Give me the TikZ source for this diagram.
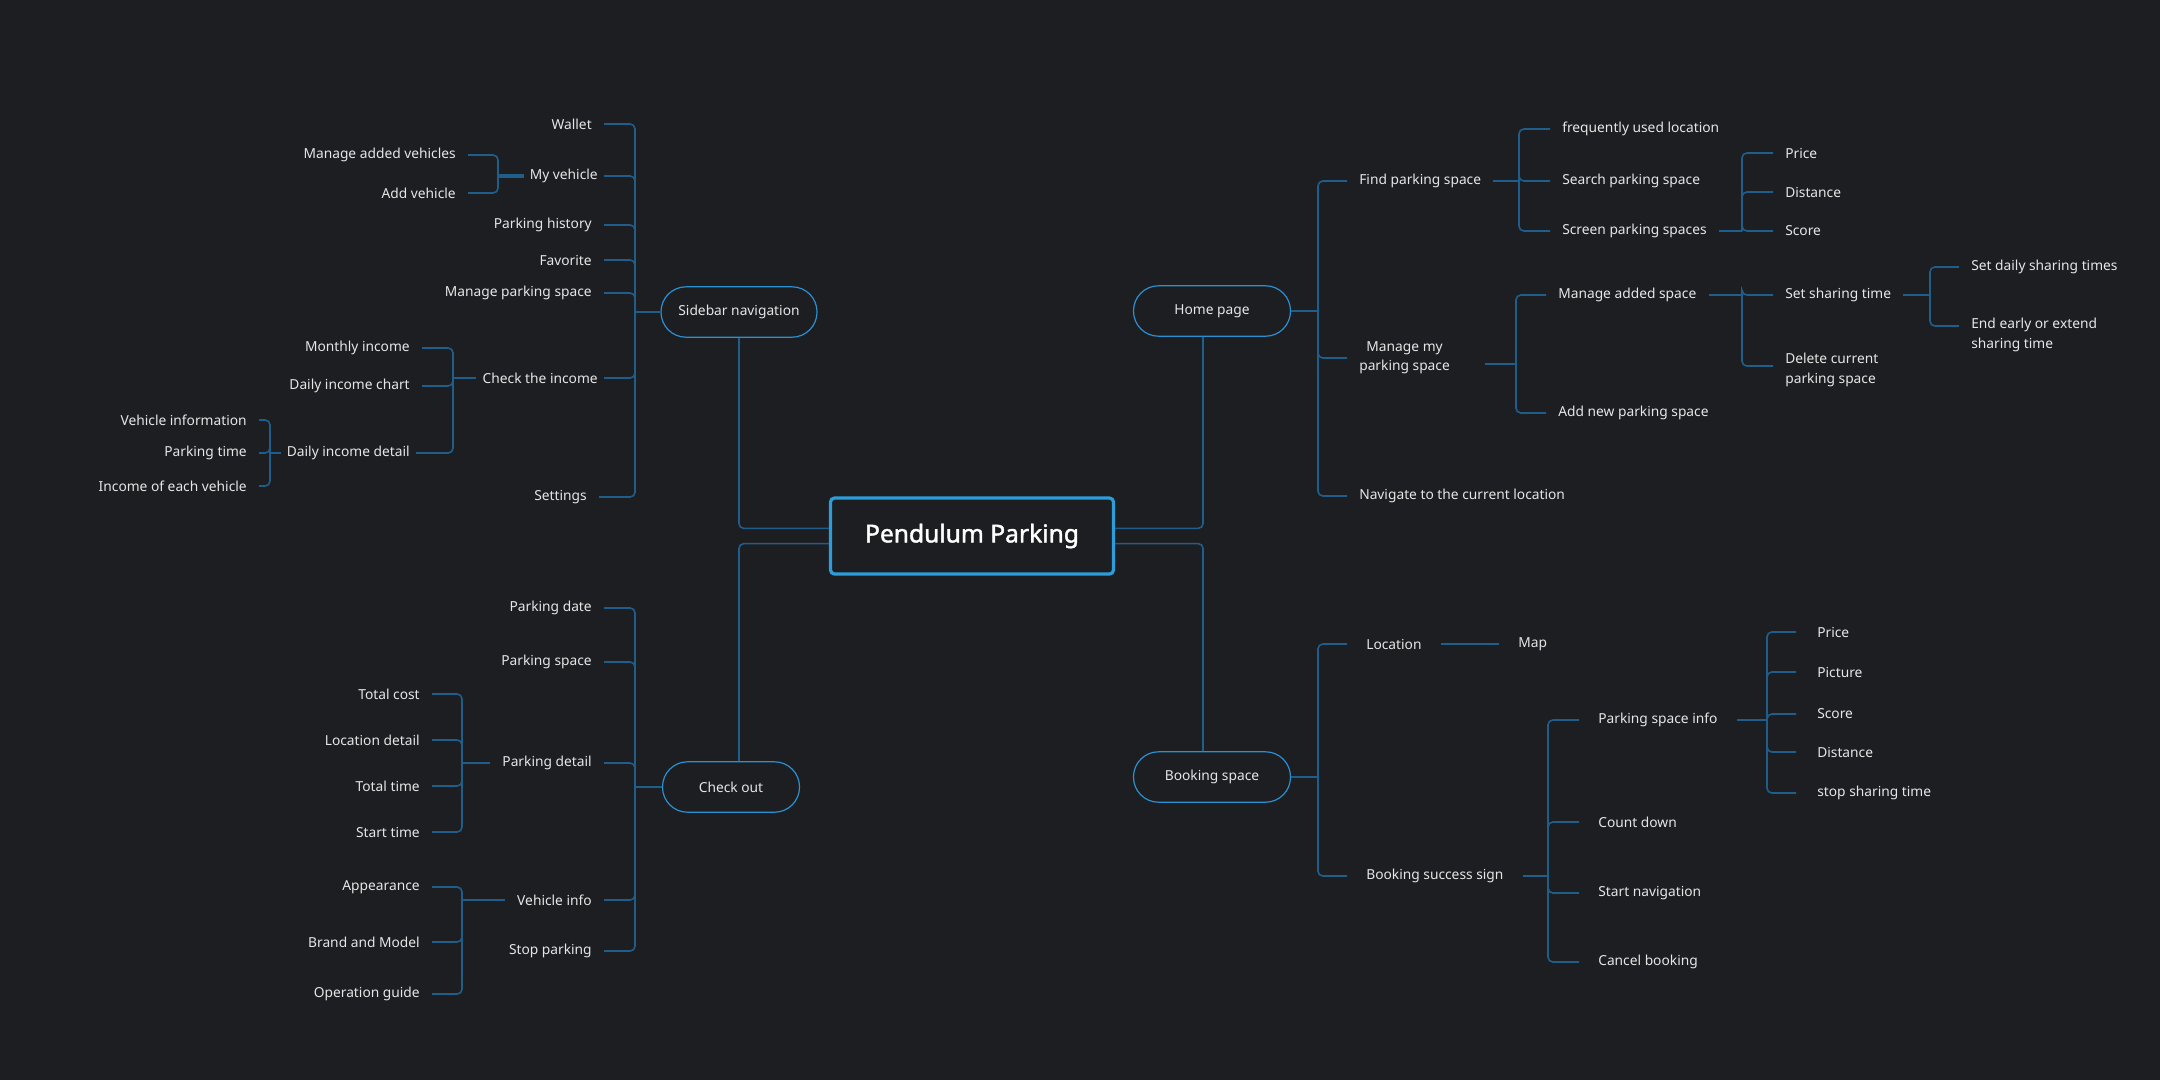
\documentclass[tikz,border=0pt]{standalone}
\usepackage{fontspec}
\setmainfont{Noto Sans}
\newfontfamily\titlefont{Noto Sans}[FakeBold=1.6]
\usepackage{tikz}
\usetikzlibrary{positioning, calc}

\definecolor{bgdark}{HTML}{1D1E22}
\definecolor{linkblue}{HTML}{1F5E8A}
\definecolor{edgeblue}{HTML}{2A90D2}
\definecolor{hubblue}{HTML}{2D9CDB}
\definecolor{labelgray}{HTML}{E6E6E6}
\newcommand{\leaffont}{\fontsize{9.8}{13.8}\selectfont}

\begin{document}
\begin{tikzpicture}[x=0.25mm, y=-0.25mm,%
  link/.style={draw=linkblue, line width=0.4mm, rounded corners=1.2mm},%
  hub/.style={draw=hubblue, line width=0.8mm, rounded corners=1mm, fill=bgdark, minimum width=70.75mm, minimum height=19mm, text=white, font=\titlefont\fontsize{17.5}{20}\selectfont},%
  branch/.style={draw=edgeblue, line width=0.3mm, rounded corners=6.25mm, minimum width=39mm, minimum height=12.6mm, text=labelgray, font=\leaffont},%
  leafL/.style={anchor=east, inner xsep=3mm, text=labelgray, font=\leaffont, align=center},%
  leafLm/.style={leafL, inner xsep=1.5mm},%
  leafR/.style={anchor=west, inner xsep=3mm, text=labelgray, font=\leaffont, align=left}%
]
  \fill[bgdark] (0,0) rectangle (2160,1080);
  \node[hub] (title) at (972,536) {Pendulum Parking};
  \node[branch] (sidebar) at (739,312) {Sidebar navigation};
  \node[branch, minimum width=39.25mm] (home) at (1212,311) {Home page};
  \node[branch, minimum width=34.25mm] (checkout) at (731,787) {Check out};
  \node[branch, minimum width=39.25mm] (booking) at (1212,777) {Booking space};
  \coordinate (trunkR) at (1203,537);
  \draw[link] ([yshift=1.9mm]title.west) -| (sidebar.south);
  \draw[link] ([yshift=-1.9mm]title.west) -| (checkout.north -| sidebar.south);
  \draw[link] ([yshift=1.9mm]title.east) -| (home.south -| trunkR);
  \draw[link] ([yshift=-1.9mm]title.east) -| (booking.north -| trunkR);

  % Sidebar navigation
  \coordinate (sbBus) at (635,312);
  \draw[link] (sidebar.west) -- (sbBus);
  \node[leafL] (wallet) at (604,124) {Wallet};
  \node[leafLm] (myveh) at (604,176) {My vehicle};
  \node[leafL] (history) at (604,225) {Parking history};
  \node[leafL] (favorite) at (604,260) {Favorite};
  \node[leafL] (manspace) at (604,293) {Manage parking space};
  \node[leafLm] (income) at (604,378) {Check the income};
  \node[leafL] (settings) at (599,497) {Settings};
  \draw[link] (sbBus) |- (wallet.east);
  \draw[link] (sbBus) |- (myveh.east);
  \draw[link] (sbBus) |- (history.east);
  \draw[link] (sbBus) |- (favorite.east);
  \draw[link] (sbBus) |- (manspace.east);
  \draw[link] (sbBus) |- (income.east);
  \draw[link] (sbBus) |- (settings.east);
  % My vehicle
  \coordinate (vehBus) at (498,176);
  \draw[link, line width=0.8mm, rounded corners=0mm] (myveh.west) -- (vehBus);
  \node[leafL] (manveh) at (468,155) {Manage added vehicles};
  \node[leafL] (addveh) at (468,193) {Add vehicle};
  \draw[link] (vehBus) |- (manveh.east);
  \draw[link] (vehBus) |- (addveh.east);
  % Check the income
  \coordinate (incBus) at (453,378);
  \draw[link] (income.west) -- (incBus);
  \node[leafL] (monthly) at (422,348) {Monthly income};
  \node[leafL] (dailychart) at (422,386) {Daily income chart};
  \node[leafLm] (dailydetail) at (416,453) {Daily income detail};
  \draw[link] (incBus) |- (monthly.east);
  \draw[link] (incBus) |- (dailychart.east);
  \draw[link] (incBus) |- (dailydetail.east);
  \coordinate (detBus) at (270,453);
  \draw[link] (dailydetail.west) -- (detBus);
  \node[leafL] (vehinfo) at (259,420) {Vehicle information};
  \node[leafL] (parktime) at (259,453) {Parking time};
  \node[leafL] (eachveh) at (259,486) {Income of each vehicle};
  \draw[link] (detBus) |- (vehinfo.east);
  \draw[link] (detBus) |- (parktime.east);
  \draw[link] (detBus) |- (eachveh.east);

  % Home page
  \coordinate (homeBus) at (1318,311);
  \draw[link] (home.east) -- (homeBus);
  \node[leafR] (find) at (1347,181) {Find parking space};
  \node[leafR, align=center] (mymanage) at (1347,358) {Manage my\\parking space};
  \node[leafR] (navigate) at (1347,496) {Navigate to the current location};
  \draw[link] (homeBus) |- (find.west);
  \draw[link] (homeBus) |- (mymanage.west);
  \draw[link] (homeBus) |- (navigate.west);
  % Find parking space
  \coordinate (findBus) at (1519,181);
  \draw[link] (find.east) -- (findBus);
  \node[leafR] (frequent) at (1550,129) {frequently used location};
  \node[leafR] (search) at (1550,181) {Search parking space};
  \node[leafR] (screen) at (1550,231) {Screen parking spaces};
  \draw[link] (findBus) |- (frequent.west);
  \draw[link] (findBus) |- (search.west);
  \draw[link] (findBus) |- (screen.west);
  \coordinate (screenBus) at (1742,231);
  \draw[link] (screen.east) -- (screenBus);
  \node[leafR] (price) at (1773,153) {Price};
  \node[leafR] (distance) at (1773,192) {Distance};
  \node[leafR] (score) at (1773,231) {Score};
  \draw[link] (screenBus) |- (price.west);
  \draw[link] (screenBus) |- (distance.west);
  \draw[link] (screenBus) |- (score.west);
  % Manage my parking space
  \coordinate (mmBus) at (1516,364);
  \draw[link] ([xshift=5.75mm, yshift=-1.5mm]mymanage.east) -- (mmBus);
  \node[leafR] (addedspace) at (1546,295) {Manage added space};
  \node[leafR] (newspace) at (1546,413) {Add new parking space};
  \draw[link] (mmBus) |- (addedspace.west);
  \draw[link] (mmBus) |- (newspace.west);
  \coordinate (asBus) at (1742,295);
  \draw[link] (addedspace.east) -- (asBus);
  \node[leafR] (sharetime) at (1773,295) {Set sharing time};
  \node[leafR] (delspace) at (1773,370) {Delete current\\parking space};
  \draw[link] (asBus) |- (sharetime.west);
  \draw[link] (asBus) |- ([yshift=1mm]delspace.west);
  \coordinate (stBus) at (1930,295);
  \draw[link] (sharetime.east) -- (stBus);
  \node[leafR] (dailyshare) at (1959,267) {Set daily sharing times};
  \node[leafR] (endearly) at (1959,335) {End early or extend\\sharing time};
  \draw[link] (stBus) |- (dailyshare.west);
  \draw[link] (stBus) |- ([yshift=2.25mm]endearly.west);

  % Booking space
  \coordinate (bookBus) at (1318,777);
  \draw[link] (booking.east) -- (bookBus);
  \node[leafR, inner xsep=4.75mm] (location) at (1347,644) {Location};
  \node[leafR, inner xsep=4.75mm] (success) at (1347,876) {Booking success sign};
  \draw[link] (bookBus) |- (location.west);
  \draw[link] (bookBus) |- (success.west);
  \node[leafR, inner xsep=4.75mm] (map) at (1499,644) {Map};
  \draw[link] (location.east) -- (map.west);
  % Booking success sign
  \coordinate (sucBus) at (1548,876);
  \draw[link] (success.east) -- (sucBus);
  \node[leafR, inner xsep=4.75mm] (spinfo) at (1579,720) {Parking space info};
  \node[leafR, inner xsep=4.75mm] (countdown) at (1579,822) {Count down};
  \node[leafR, inner xsep=4.75mm] (startnav) at (1579,893) {Start navigation};
  \node[leafR, inner xsep=4.75mm] (cancel) at (1579,962) {Cancel booking};
  \draw[link] (sucBus) |- (spinfo.west);
  \draw[link] (sucBus) |- (countdown.west);
  \draw[link] (sucBus) |- (startnav.west);
  \draw[link] (sucBus) |- (cancel.west);
  \coordinate (infoBus) at (1767,720);
  \draw[link] (spinfo.east) -- (infoBus);
  \node[leafR, inner xsep=5.25mm] (infoprice) at (1796,632) {Price};
  \node[leafR, inner xsep=5.25mm] (picture) at (1796,672) {Picture};
  \node[leafR, inner xsep=5.25mm] (infoscore) at (1796,714) {Score};
  \node[leafR, inner xsep=5.25mm] (infodist) at (1796,752) {Distance};
  \node[leafR, inner xsep=5.25mm] (stopshare) at (1796,793) {stop sharing time};
  \draw[link] (infoBus) |- (infoprice.west);
  \draw[link] (infoBus) |- (picture.west);
  \draw[link] (infoBus) |- (infoscore.west);
  \draw[link] (infoBus) |- (infodist.west);
  \draw[link] (infoBus) |- (stopshare.west);

  % Check out
  \coordinate (coBus) at (635,787);
  \draw[link] (checkout.west) -- (coBus);
  \node[leafL] (pdate) at (604,608) {Parking date};
  \node[leafL] (pspace) at (604,662) {Parking space};
  \node[leafL] (pdetail) at (604,763) {Parking detail};
  \node[leafL] (vinfo) at (604,900) {Vehicle info};
  \node[leafL] (stoppark) at (604,951) {Stop parking};
  \draw[link] (coBus) |- (pdate.east);
  \draw[link] (coBus) |- (pspace.east);
  \draw[link] (coBus) |- (pdetail.east);
  \draw[link] (coBus) |- (vinfo.east);
  \draw[link] (coBus) |- (stoppark.east);
  % Parking detail
  \coordinate (pdBus) at (462,763);
  \draw[link] (pdetail.west) -- (pdBus);
  \node[leafL] (totalcost) at (432,694) {Total cost};
  \node[leafL] (locdetail) at (432,740) {Location detail};
  \node[leafL] (totaltime) at (432,786) {Total time};
  \node[leafL] (starttime) at (432,832) {Start time};
  \draw[link] (pdBus) |- (totalcost.east);
  \draw[link] (pdBus) |- (locdetail.east);
  \draw[link] (pdBus) |- (totaltime.east);
  \draw[link] (pdBus) |- (starttime.east);
  % Vehicle info
  \coordinate (viBus) at (462,900);
  \draw[link] (vinfo.west) -- (viBus);
  \node[leafL] (appearance) at (432,887) {Appearance};
  \node[leafL] (brand) at (432,942) {Brand and Model};
  \node[leafL] (guide) at (432,994) {Operation guide};
  \draw[link] (viBus) |- (appearance.east);
  \draw[link] (viBus) |- (brand.east);
  \draw[link] (viBus) |- (guide.east);
\end{tikzpicture}
\end{document}
